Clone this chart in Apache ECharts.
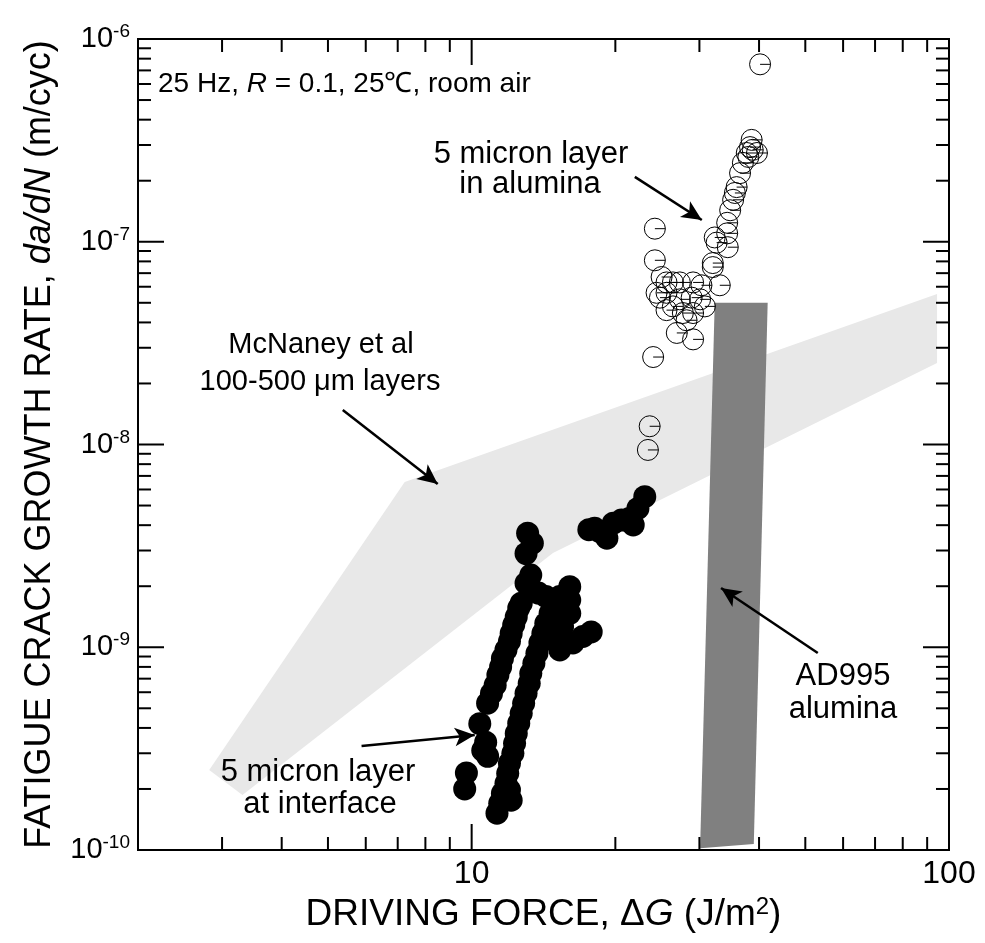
<!DOCTYPE html>
<html>
<head>
<meta charset="utf-8">
<style>
  html, body { margin: 0; padding: 0; background: #fff; }
  #chart { width: 985px; height: 943px; }
</style>
<script src="https://cdn.jsdelivr.net/npm/echarts@6/dist/echarts.min.js"></script>
</head>
<body>
<div id="chart"></div>
<script>
// ---- data (driving force G in J/m^2, growth rate da/dN in m/cycle) ----

// open circles: 5 micron layer in alumina
const aluminaLayer = [
  [40.2, 7.5e-7],
  [38.6, 3.18e-7], [38.3, 2.93e-7], [38.8, 2.84e-7], [39.6, 2.74e-7], [37.7, 2.74e-7],
  [38.0, 2.62e-7], [37.0, 2.45e-7], [36.5, 2.18e-7], [35.9, 1.86e-7], [35.6, 1.74e-7],
  [35.3, 1.61e-7], [34.8, 1.43e-7], [34.3, 1.24e-7], [34.3, 1.10e-7], [32.3, 1.05e-7],
  [34.4, 9.4e-8], [32.6, 9.9e-8], [32.0, 7.85e-8], [32.0, 7.5e-8], [33.1, 6.1e-8],
  [24.2, 1.16e-7], [24.2, 8.1e-8], [25.0, 6.7e-8], [25.6, 6.3e-8], [26.4, 6.3e-8],
  [27.3, 6.3e-8], [29.1, 6.3e-8], [30.3, 6.1e-8], [24.8, 5.3e-8], [24.4, 5.6e-8],
  [25.6, 4.6e-8], [26.4, 4.8e-8], [27.3, 5.2e-8], [27.7, 4.45e-8], [25.6, 5.6e-8],
  [28.9, 5.3e-8], [30.1, 5.2e-8], [30.8, 4.8e-8], [29.1, 4.45e-8], [28.2, 4.1e-8],
  [26.9, 3.55e-8], [29.1, 3.3e-8], [24.0, 2.7e-8], [23.6, 1.23e-8], [23.4, 9.4e-9]
];

// filled circles: 5 micron layer at interface
const interfaceLayer = [
  // isolated points at the lower left
  [10.4, 4.2e-10], [10.7, 3.4e-10], [10.8, 2.9e-10], [10.55, 3.1e-10], [9.75, 2.4e-10], [9.67, 2.0e-10],
  // left strand
  [10.8, 5.3e-10], [11.0, 5.9e-10], [11.2, 6.5e-10], [11.35, 7.3e-10], [11.5, 8.0e-10],
  [11.6, 8.8e-10], [11.8, 9.7e-10], [12.0, 1.07e-9], [12.1, 1.17e-9], [12.25, 1.29e-9],
  [12.4, 1.41e-9], [12.55, 1.56e-9], [12.7, 1.65e-9], [13.0, 2.07e-9], [13.3, 2.27e-9],
  [13.8, 1.85e-9], [14.3, 1.78e-9], [13.0, 2.9e-9], [13.1, 3.65e-9], [13.4, 3.26e-9],
  // right strand
  [11.3, 1.52e-10], [11.45, 1.70e-10], [11.6, 1.90e-10], [11.8, 2.13e-10], [11.9, 2.39e-10],
  [12.0, 2.68e-10], [12.2, 3.0e-10], [12.3, 3.36e-10], [12.4, 3.76e-10], [12.55, 4.22e-10],
  [12.7, 4.72e-10], [12.85, 5.29e-10], [13.0, 5.93e-10], [13.2, 6.64e-10], [13.3, 7.44e-10],
  [13.5, 8.33e-10], [13.7, 9.33e-10], [13.9, 1.05e-9], [14.1, 1.17e-9], [14.3, 1.31e-9],
  [14.6, 1.47e-9], [14.9, 1.65e-9], [15.3, 1.78e-9], [16.05, 1.99e-9], [16.05, 1.71e-9],
  [16.05, 1.47e-9], [15.5, 1.26e-9], [15.05, 1.09e-9], [15.3, 9.7e-10], [16.3, 1.05e-9],
  [17.1, 1.13e-9], [17.8, 1.19e-9], [12.1, 1.76e-10], [12.0, 1.98e-10],
  // upper group
  [17.6, 3.8e-9], [18.1, 3.86e-9], [18.55, 3.72e-9], [19.2, 3.45e-9], [19.8, 4.09e-9],
  [20.6, 4.24e-9], [21.4, 4.32e-9], [21.8, 4.01e-9], [22.3, 4.84e-9], [23.05, 5.53e-9]
];

// McNaney et al band (outline, clockwise)
const mcnaneyG    = [2.82,    7.24,    94.4,    94.4,    14.8,    3.31];
const mcnaneyRate = [2.48e-10, 6.53e-9, 5.52e-8, 2.52e-8, 2.92e-9, 1.87e-10];

// AD995 alumina band
const ad995G    = [32.3,   41.7,   39.0,     30.1];
const ad995Rate = [5.0e-8, 5.0e-8, 1.07e-10, 1.02e-10];

// axis ticks
const xMinorTicks = [3, 4, 5, 6, 7, 8, 9, 20, 30, 40, 50, 60, 70, 80, 90];
const xMajorTicks = [10];
const yDecades = [-10, -9, -8, -7];
const mantissas = [2, 3, 4, 5, 6, 7, 8, 9];

const X_MIN = 2, X_MAX = 100, Y_MIN = 1e-10, Y_MAX = 1e-6;

// arrows [from, to]
const arrows = [
  [[21.97, 2.09e-7], [30.35, 1.28e-7]],
  [[5.37, 1.48e-8], [8.49, 6.39e-9]],
  [[5.88, 3.26e-10], [10.15, 3.69e-10]],
  [[53.1, 9.37e-10], [33.3, 1.96e-9]]
];

const FONT = "'Liberation Sans', Arial, sans-serif";

function polygon(xs, ys, fill) {
  return {
    type: 'custom',
    coordinateSystem: 'cartesian2d',
    silent: true,
    z: 1,
    data: [[xs[0], ys[0]]],
    renderItem: function (params, api) {
      const pts = xs.map((x, i) => api.coord([x, ys[i]]));
      return { type: 'polygon', shape: { points: pts }, style: { fill: fill } };
    }
  };
}

function tickSeries() {
  return {
    type: 'custom',
    coordinateSystem: 'cartesian2d',
    silent: true,
    z: 10,
    data: [[10, 1e-8]],
    renderItem: function (params, api) {
      const kids = [];
      const seg = (x1, y1, x2, y2) => kids.push({
        type: 'line', shape: { x1, y1, x2, y2 }, style: { stroke: '#000', lineWidth: 2 }
      });
      const xt = (v, len) => {
        const b = api.coord([v, Y_MIN]), t = api.coord([v, Y_MAX]);
        seg(b[0], b[1], b[0], b[1] - len);
        seg(t[0], t[1], t[0], t[1] + len);
      };
      const yt = (v, len) => {
        const l = api.coord([X_MIN, v]), r = api.coord([X_MAX, v]);
        seg(l[0], l[1], l[0] + len, l[1]);
        seg(r[0], r[1], r[0] - len, r[1]);
      };
      xMinorTicks.forEach(v => xt(v, 13));
      xMajorTicks.forEach(v => xt(v, 26));
      yDecades.forEach(d => {
        mantissas.forEach(m => yt(m * Math.pow(10, d), 13));
        if (d > -10) yt(Math.pow(10, d), 26);
      });
      return { type: 'group', children: kids };
    }
  };
}

const txt = (x, y, text, extra) => Object.assign({
  type: 'text', x: x, y: y, silent: true, z: 100,
  style: Object.assign({
    text: text, font: '31px ' + FONT, fill: '#000',
    textAlign: 'center', textVerticalAlign: 'middle'
  }, extra || {})
});

const chart = echarts.init(document.getElementById('chart'));
chart.setOption({
  animation: false,
  backgroundColor: '#fff',
  grid: {
    left: 138, right: 36, top: 39, bottom: 93,
    show: true, borderColor: '#000', borderWidth: 2, backgroundColor: 'transparent'
  },
  xAxis: {
    type: 'log', logBase: 10, min: X_MIN, max: X_MAX,
    name: '{r|DRIVING FORCE, \u0394}{i|G}{r| (J/m}{sup|2}{r|)}',
    nameLocation: 'middle', nameGap: 42,
    nameTextStyle: {
      rich: {
        r: { fontSize: 37, fontFamily: FONT, color: '#000' },
        i: { fontSize: 37, fontFamily: FONT, fontStyle: 'italic', color: '#000' },
        sup: { fontSize: 24, fontFamily: FONT, color: '#000', verticalAlign: 'top', padding: [0, 0, 16, 0] }
      }
    },
    axisLine: { show: true, lineStyle: { color: '#000', width: 2 } },
    axisTick: { show: false },
    minorTick: { show: false },
    splitLine: { show: false },
    axisLabel: {
      margin: 8, fontSize: 32, fontFamily: FONT, color: '#000',
      formatter: function (v) {
        const e = Math.log10(v);
        return Math.abs(e - Math.round(e)) < 1e-6 && Math.round(e) >= 1 ? String(Math.round(v)) : '';
      }
    }
  },
  yAxis: {
    type: 'log', logBase: 10, min: Y_MIN, max: Y_MAX,
    name: '{r|FATIGUE CRACK GROWTH RATE, }{i|da/dN}{r| (m/cyc)}',
    nameLocation: 'middle', nameGap: 80,
    nameTextStyle: {
      rich: {
        r: { fontSize: 36, fontFamily: FONT, color: '#000' },
        i: { fontSize: 36, fontFamily: FONT, fontStyle: 'italic', color: '#000' }
      }
    },
    axisLine: { show: true, lineStyle: { color: '#000', width: 2 } },
    axisTick: { show: false },
    minorTick: { show: false },
    splitLine: { show: false },
    axisLabel: {
      margin: 8, color: '#000',
      formatter: function (v) {
        return '{b|10}{s|' + Math.round(Math.log10(v)) + '}';
      },
      rich: {
        b: { fontSize: 29, fontFamily: FONT, color: '#000' },
        s: { fontSize: 19, fontFamily: FONT, color: '#000', verticalAlign: 'top', padding: [0, 0, 14, 0] }
      }
    }
  },
  series: [
    polygon(mcnaneyG, mcnaneyRate, '#e8e8e8'),
    polygon(ad995G, ad995Rate, '#808080'),
    {
      name: '5 micron layer in alumina',
      type: 'scatter', z: 5,
      symbol: 'path://M20,10A10,10,0,1,1,0,10A10,10,0,1,1,20,10ZM10,10L20,10',
      symbolSize: 21,
      itemStyle: { color: 'rgba(0,0,0,0)', borderColor: '#000', borderWidth: 1, opacity: 1 },
      data: aluminaLayer,
      markLine: {
        silent: true, symbol: ['none', 'arrow'], symbolSize: [14, 20],
        label: { show: false },
        lineStyle: { color: '#000', width: 2.5, type: 'solid', opacity: 1 },
        data: arrows.map(a => [{ coord: a[0] }, { coord: a[1] }])
      }
    },
    {
      name: '5 micron layer at interface',
      type: 'scatter', z: 4,
      symbol: 'circle', symbolSize: 23,
      itemStyle: { color: '#000', opacity: 1 },
      data: interfaceLayer
    },
    tickSeries()
  ],
  graphic: [
    txt(158, 84, '25 Hz, {i|R} = 0.1, 25\u2103, room air', {
      textAlign: 'left', font: '28px ' + FONT,
      rich: { i: { fontStyle: 'italic', fontSize: 28, fontFamily: FONT } }
    }),
    txt(531, 154, '5 micron layer'),
    txt(530, 184, 'in alumina'),
    txt(321, 345, 'McNaney et al', { font: '29px ' + FONT }),
    txt(320, 382, '100-500 \u03bcm layers', { font: '29px ' + FONT }),
    txt(318, 772, '5 micron layer'),
    txt(320, 804, 'at interface'),
    txt(843, 676, 'AD995'),
    txt(843, 709, 'alumina')
  ]
});
</script>
</body>
</html>
